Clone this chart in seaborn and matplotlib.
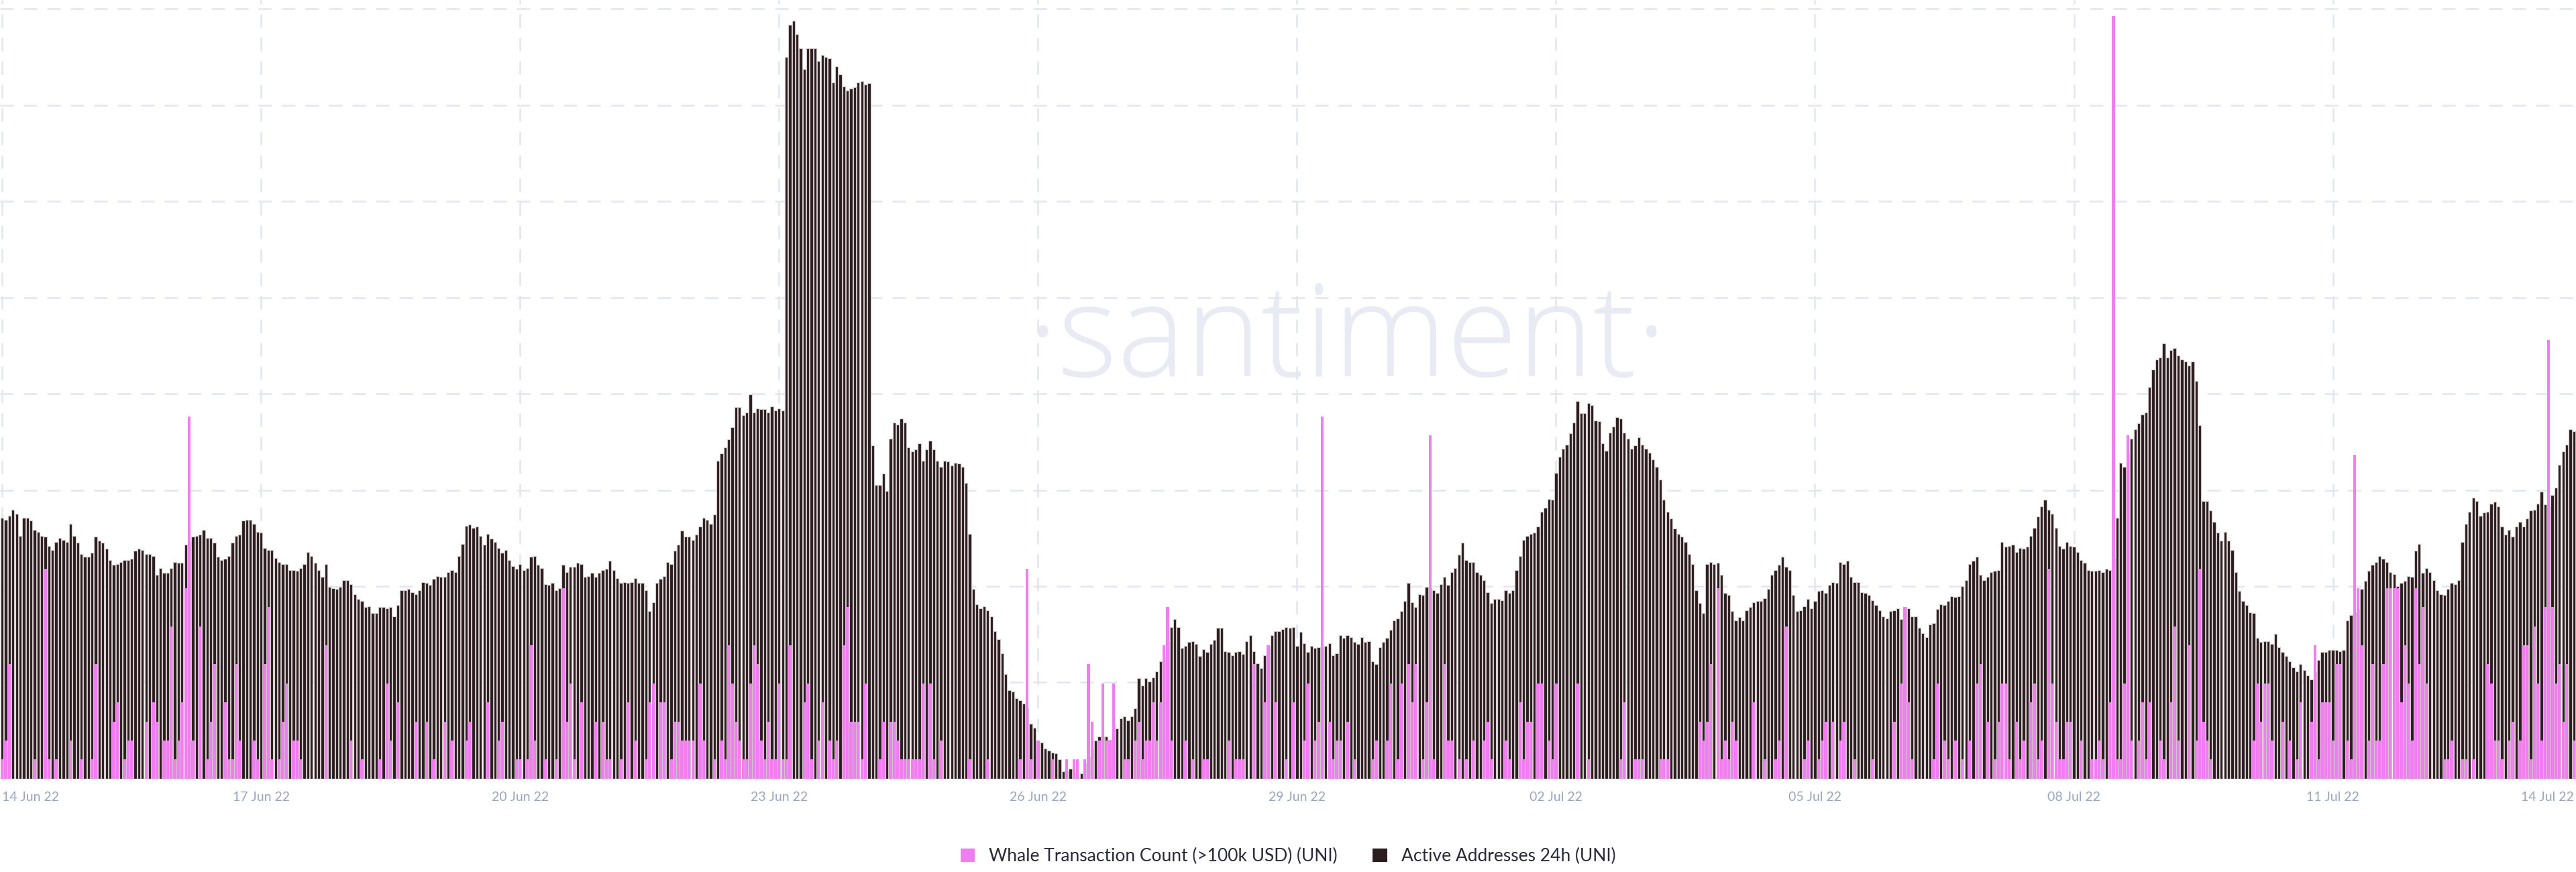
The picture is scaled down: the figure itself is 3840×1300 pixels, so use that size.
import numpy as np
import pandas as pd
import seaborn as sns
import matplotlib
matplotlib.use("Agg")
import matplotlib.pyplot as plt
from matplotlib.patches import Patch

# Active Addresses 24h (UNI), hourly, relative units
active_A = [520,516,524,536,528,484,520,520,514,496,492,484,482,464,456,472,480,476,472,508,
            484,470,448,442,442,450,482,474,470,458,436,426,428,432,436,436,438,454,458,456,
            448,448,444,406,420,410,410,420,432,430,430,466,472,482,484,486,496,480,480,470,
            442,436,438,444,470,484,486,514,516,516,508,492,490,460,456,456,440,432,428,428,
            416,416,414,420,428,452,444,430,416,402,428,382,380,378,382,396,396,388,368,358,
            354,342,344,330,330,342,342,340,342,324,346,376,376,378,372,368,376,392,390,386,
            398,404,402,402,412,416,412,444,468,504,506,500,502,484,466,488,478,472,460,450,
            456,436,424,418]
active_B = [428,416,420,442,444,426,420,388,386,390,376,380,426,412,422,422,430,428,402,404,
            410,402,410,416,418,434,416,400,390,392,390,392,400,390,390,376,334,352,390,398,
            404,432,428,454,466,494,482,482,476,486,502,520,516,508,526,634,648,660,676,700,
            740,740,724,730,766,730,738,736,736,730,742,734,738,734,1438,1502,1510,1484,1456,1414,
            1456,1456,1456,1430,1442,1438,1436,1388,1420,1404,1380,1372,1376,1378,1388,1390,1384,1386,664,586,
            586,608,574,678,710,706,718,710,660,652,656,668,634,656,674,656,634,622,
            634,632,624,630,628,622,590,488,378,348,340,344,336,324,294,278,250,208,176,174,
            160,156,150,140,110,102]
active_C = [74,72,60,56,52,50,38,14,14,20,12,4,10,30,44,60,76,84,84,84,
            78,108,100,120,124,116,124,140,200,186,200,194,202,214,234,242,274,302,318,302,
            260,264,272,274,268,244,258,252,268,276,300,300,254,252,246,252,254,248,274,286,
            254,230,220,246,262,286,294,294,298,302,300,302,264,292,270,252,264,260,262,258,
            264,270,246,250,286,280,286,282,272,268,282,272,274,234,228,262,272,280,296,316,
            320,334,354,390,352,342,368,366,382,380,376,370,388,402,386,412,420,446,470,436,
            432,432,412,406,396,372,350,358,358,356,376,370,376,416,444,476,484,488,490,502,
            532,540,558,556]
active_D = [610,642,658,666,688,710,752,728,728,748,744,714,712,668,654,690,702,720,718,690,
            678,658,664,680,666,658,650,636,622,596,556,532,518,498,488,482,472,448,428,376,
            350,330,428,432,428,430,406,370,366,334,316,322,316,336,342,352,354,354,360,378,
            406,416,426,442,422,416,366,334,336,344,358,340,354,374,376,370,386,392,
            390,432,428,434,402,392,392,372,370,366,356,346,336,324,320,334,336,340,318,
            342,340,324,324,300,290,282,308,310,338,348,346,354,364,362,364,384,396,428,
            434,442,406,396,402,412,414,416,472,462,464,466,452,460,458,462,484,500,522,542,
            556,536,528,500,464,458,472]
active_E = [464,462,452,436,430,416,414,414,416,412,418,416,438,520,630,622,650,678,
            696,708,726,730,780,816,836,840,868,840,854,858,844,836,832,824,832,792,704,554,
            554,534,512,490,474,492,474,456,412,374,354,346,332,330,280,272,274,274,268,288,
            262,252,244,234,222,214,228,216,206,198,212,236,252,252,256,256,256,254,256,
            316,326,332,338,378,394,414,426,432,444,438,432,412,408,384,390,394,404,402,454,
            468,410,420,412,396,376,368,366,378,390,388,396,472,508,532,560,554,524,530,532,
            548,552,542,502,486,496,482,502,512,502,518,534,536,548,572,546,542,566,580,626,
            652,666,696,692]

# Whale Transaction Count (>100k USD) (UNI): hour-within-segment -> count (other hours 0)
whale_A = {0:1,1:2,2:6,9:1,12:11,13:1,15:1,19:2,22:1,25:1,26:6,31:3,32:4,34:1,35:2,36:2,40:3,42:4,43:3,
           45:2,46:2,47:8,48:1,49:2,50:4,51:10,52:19,53:2,55:8,57:1,58:3,59:6,62:4,63:1,64:1,65:6,66:2,
           70:2,71:1,73:6,74:9,75:1,77:1,78:3,79:5,81:2,82:2,83:1,90:7,97:2,100:1,105:1,107:5,108:2,
           110:4,115:3,118:3,120:1,123:3,125:2,129:2,130:3,135:4,138:2,139:3,143:1}
whale_B = {0:1,2:1,3:7,4:2,7:1,10:1,12:10,13:3,14:5,15:1,17:4,21:3,23:3,24:1,25:1,28:1,30:4,32:2,35:1,
           36:4,37:5,39:4,40:4,42:1,43:3,44:3,45:2,46:2,47:2,48:2,50:5,51:2,54:1,56:2,57:1,58:7,59:5,
           60:3,61:2,62:1,63:1,64:5,65:7,66:6,67:2,68:1,69:3,70:1,71:1,72:5,73:1,74:1,75:7,79:4,80:5,
           81:1,83:2,84:4,86:2,87:1,88:2,90:7,91:9,92:3,93:3,94:3,95:1,96:5,100:1,101:3,103:3,104:3,
           105:2,106:1,107:1,108:1,109:1,110:1,111:1,112:5,114:5,115:1,117:2,125:1,130:1,139:1,
           141:11,142:1}
whale_C = {0:2,4:1,8:1,10:1,11:1,13:1,14:6,15:3,17:2,18:5,19:2,20:2,21:5,24:1,25:1,27:2,28:3,29:1,
           30:2,31:2,32:4,33:2,34:4,35:7,36:9,37:2,41:2,43:1,46:1,47:1,53:2,55:1,56:1,57:1,60:6,63:4,
           64:7,66:4,69:1,71:4,74:2,75:5,77:2,78:3,79:19,81:3,82:1,83:2,84:2,86:3,88:1,93:1,94:2,
           97:2,98:5,100:1,101:5,103:6,104:4,105:6,107:1,108:4,109:18,110:1,113:6,114:2,115:2,117:1,
           119:1,121:2,124:2,125:3,126:1,130:2,131:1,134:4,135:1,136:3,137:3,139:5,140:5,142:2,143:1}
whale_D = {0:5,6:5,9:1,18:1,19:4,22:1,23:1,24:1,29:1,30:1,31:1,40:3,41:2,42:3,43:6,45:10,46:1,47:2,
           48:1,49:3,50:2,55:4,58:1,61:1,62:2,64:8,69:1,70:2,73:1,74:2,75:3,77:3,79:2,80:3,83:1,88:1,
           94:3,96:5,97:9,98:4,99:1,105:1,106:5,108:2,109:1,111:2,113:1,115:2,117:5,118:6,120:3,
           122:1,123:3,124:5,125:5,126:1,128:3,129:1,130:2,132:4,133:5,134:1,135:2,137:11,138:5,
           139:3,140:1,141:1,142:3}
whale_E = {0:3,3:2,6:1,7:1,8:2,9:1,11:4,12:40,13:1,14:1,15:5,16:18,17:2,19:2,20:4,21:1,22:4,25:2,
           26:1,28:4,29:8,30:2,33:7,35:2,36:11,37:3,38:2,39:1,51:2,52:5,53:3,54:5,55:5,56:2,59:3,
           61:2,63:1,64:4,67:3,68:7,69:1,70:4,71:4,72:4,73:2,74:6,75:6,77:2,78:1,79:17,80:10,81:7,
           83:2,84:6,85:2,86:2,87:6,88:10,89:10,90:10,91:10,92:4,93:7,94:5,95:2,96:10,97:6,98:9,
           99:5,104:1,105:1,106:2,109:1,110:1,112:1,116:6,117:5,118:2,119:2,120:1,122:2,123:3,
           125:2,126:7,127:7,128:1,129:8,130:5,131:2,132:9,133:23,134:9,135:5,136:6,137:3,138:6,140:2}

tick_labels = ["14 Jun 22", "17 Jun 22", "20 Jun 22", "23 Jun 22", "26 Jun 22", "29 Jun 22",
               "02 Jul 22", "05 Jul 22", "08 Jul 22", "11 Jul 22", "14 Jul 22"]

active = active_A + active_B + active_C + active_D + active_E
n = len(active)
whale = np.zeros(n)
off = 0
for seg, wd in zip([active_A, active_B, active_C, active_D, active_E],
                   [whale_A, whale_B, whale_C, whale_D, whale_E]):
    for k, v in wd.items():
        if off + k < n:
            whale[off + k] = v
    off += len(seg)

df = pd.DataFrame({"hour": np.arange(n), "active": active, "whale": whale})

DARK = "#2b1d1f"
PINK = "#f07ef0"
GRID = "#e3e5f1"
TICK = "#9aa5c0"

sns.set_style("white")
plt.rcParams['font.family'] = ['Lato', 'DejaVu Sans']

fig = plt.figure(figsize=(38.4, 13), dpi=100)
ax = fig.add_axes([0.0, 0.107, 1.0, 0.893])
sns.barplot(data=df, x="hour", y="active", native_scale=True, color=DARK, width=0.8,
            edgecolor="#cfc6c6", linewidth=0.8, errorbar=None, ax=ax, saturation=1)
ax.set_ylim(0, 1552)
ax.set_xlim(-0.6, n - 0.4)
ax.set_yticks(np.arange(1, 9) * 191.75)
ax.set_yticklabels([])
ax.tick_params(axis="y", length=0)
ax.grid(True, axis="both", color=GRID, linestyle=(0, (8, 6)), linewidth=1.8)
ax.set_axisbelow(True)
for s in ax.spines.values():
    s.set_visible(False)
ax.axhline(0, color="#e6e8f2", linewidth=3, zorder=0.5)

ticks = np.arange(0, n, 72)
ax.set_xticks(ticks)
ax.set_xticklabels(tick_labels[:len(ticks)], color=TICK, fontsize=14)
ax.get_xticklabels()[0].set_horizontalalignment("left")
ax.tick_params(axis="x", length=0, pad=14)
ax.set_xlabel("")
ax.set_ylabel("")
ax.annotate(tick_labels[-1], xy=(1.0, 0.0), xycoords="axes fraction", xytext=(-2, -14),
            textcoords="offset points", ha="right", va="top", color=TICK, fontsize=14)

ax.text(0.523, 0.56, "·santiment·", transform=ax.transAxes, ha="center", va="center",
        fontsize=138, color="#e8ebf4", fontfamily="Open Sans", fontweight="light", zorder=0)

ax2 = ax.twinx()
sns.barplot(data=df, x="hour", y="whale", native_scale=True, color=PINK, width=0.8,
            linewidth=0, errorbar=None, ax=ax2, saturation=1)
ax2.set_ylim(0, 1552 / 38.0)
ax2.set_xlim(ax.get_xlim())
ax2.axis("off")

handles = [Patch(facecolor=PINK, edgecolor="none", label="Whale Transaction Count (>100k USD) (UNI)"),
           Patch(facecolor=DARK, edgecolor="none", label="Active Addresses 24h (UNI)")]
fig.legend(handles=handles, loc="center", bbox_to_anchor=(0.5, 0.018), ncol=2, frameon=False,
           fontsize=19, handlelength=0.8, handleheight=0.8, columnspacing=2.0, labelcolor="#2a2a38")

fig.savefig("out.png", dpi=100)
